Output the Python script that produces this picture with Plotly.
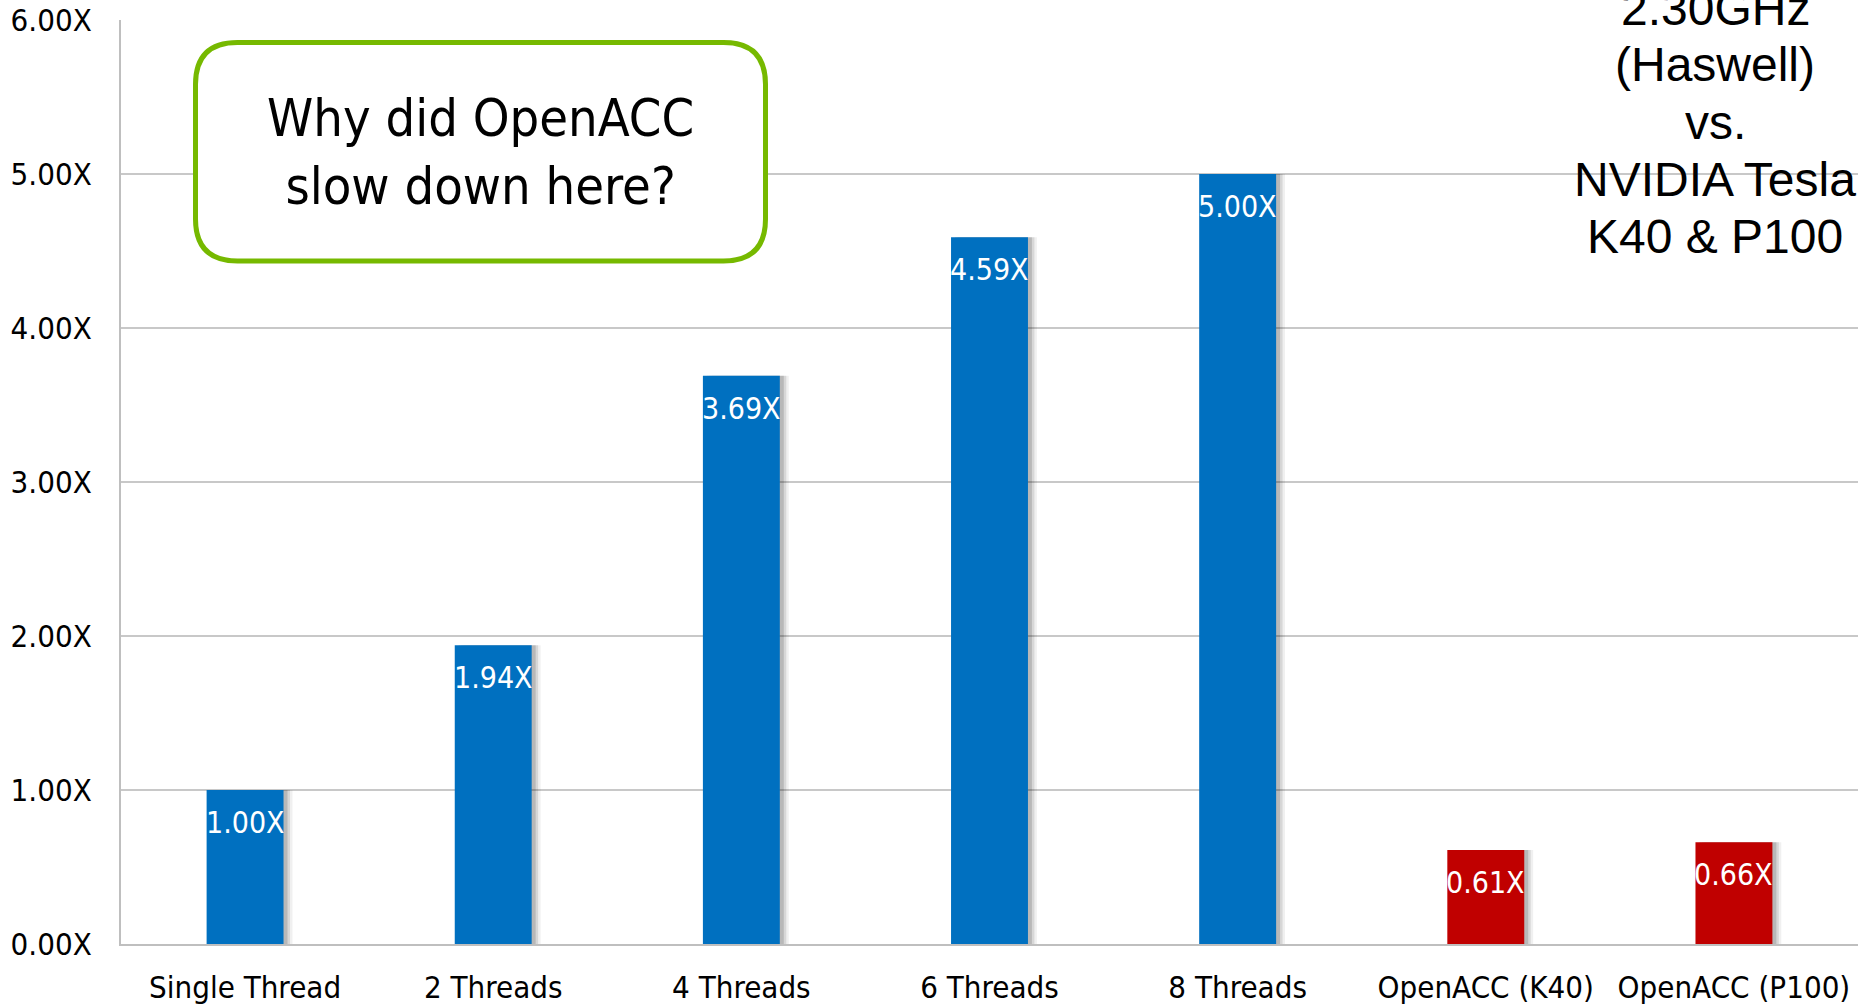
import plotly.graph_objects as go

categories = ["Single Thread", "2 Threads", "4 Threads", "6 Threads", "8 Threads",
              "OpenACC (K40)", "OpenACC (P100)"]
speedup = [1.00, 1.94, 3.69, 4.59, 5.00, 0.61, 0.66]
bar_colors = ["#0070C0"] * 5 + ["#C00000"] * 2
value_labels = ["1.00X", "1.94X", "3.69X", "4.59X", "5.00X", "0.61X", "0.66X"]
y_ticks = [0, 1, 2, 3, 4, 5, 6]
y_tick_labels = ["0.00X", "1.00X", "2.00X", "3.00X", "4.00X", "5.00X", "6.00X"]
callout_text = "Why did OpenACC<br>slow down here?"
side_lines = ["2.30GHz", "(Haswell)", "vs.", "NVIDIA Tesla", "K40 &amp; P100"]

FONT = "DejaVu Sans Condensed, DejaVu Sans, sans-serif"
W, H = 1858, 1005
ML, MR, MT, MB = 121, 0, 20, 59
PW, PH = W - ML - MR, H - MT - MB

BW = 0.31
fig = go.Figure()
# soft shadow layers
for d, a in [(0.036, 0.06), (0.026, 0.10), (0.016, 0.14)]:
    fig.add_trace(go.Bar(x=categories, y=speedup, width=BW, offset=-BW / 2 + d,
                         marker=dict(color=f"rgba(0,0,0,{a})", line=dict(width=0)),
                         hoverinfo="skip", showlegend=False))
fig.add_trace(go.Bar(x=categories, y=speedup, width=BW, offset=-BW / 2,
                     marker=dict(color=bar_colors, line=dict(width=0)),
                     showlegend=False))

annotations = []
for c, v, t in zip(categories, speedup, value_labels):
    annotations.append(dict(x=c, y=v, xref="x", yref="y", text=t, showarrow=False,
                            yanchor="top", yshift=-13,
                            font=dict(family=FONT, size=30, color="white")))


def px_x(p):
    return (p - ML) / PW


def px_y(p):
    return (H - MB - p) / PH


# callout box
bx0, bx1, by0, by1 = 195.5, 765.5, 42.5, 261.5
annotations.append(dict(x=px_x((bx0 + bx1) / 2), y=px_y((by0 + by1) / 2),
                        xref="paper", yref="paper", text=callout_text, showarrow=False,
                        xanchor="center", yanchor="middle",
                        font=dict(family=FONT, size=52, color="black")))

# right side text, one line each
baselines = [26, 82, 140, 197, 255]
for t, b in zip(side_lines, baselines):
    annotations.append(dict(x=px_x(1715), y=px_y(b), xref="paper", yref="paper",
                            text=t, showarrow=False, xanchor="center", yanchor="bottom",
                            yshift=-11,
                            font=dict(family="Liberation Sans, Arial, sans-serif", size=48,
                                      color="black")))

r = 42
kx, ky = r / PW, r / PH
x0, x1, y0, y1 = px_x(bx0), px_x(bx1), px_y(by1), px_y(by0)
path = (f"M {x0 + kx},{y1} L {x1 - kx},{y1} Q {x1},{y1} {x1},{y1 - ky} "
        f"L {x1},{y0 + ky} Q {x1},{y0} {x1 - kx},{y0} L {x0 + kx},{y0} "
        f"Q {x0},{y0} {x0},{y0 + ky} L {x0},{y1 - ky} Q {x0},{y1} {x0 + kx},{y1} Z")

shapes = [
    dict(type="rect", xref="paper", yref="paper", x0=px_x(1533), x1=1.01, y0=px_y(300),
         y1=1.05, fillcolor="white", line=dict(width=0), layer="between"),
    dict(type="path", xref="paper", yref="paper", path=path, fillcolor="white",
         line=dict(color="#76B900", width=5), layer="above"),
]

fig.update_layout(
    width=W, height=H, barmode="overlay",
    margin=dict(l=ML, r=MR, t=MT, b=MB, pad=0),
    paper_bgcolor="white", plot_bgcolor="white",
    annotations=annotations, shapes=shapes,
    xaxis=dict(type="category", categoryorder="array", categoryarray=categories,
               range=[-0.5, len(categories) - 0.5],
               showline=True, linecolor="#BFBFBF", linewidth=2, showgrid=False,
               ticks="", tickfont=dict(family=FONT, size=31, color="black"),
               ticklabelstandoff=15),
    yaxis=dict(range=[0, 6], tickvals=y_ticks, ticktext=y_tick_labels,
               showline=True, linecolor="#BFBFBF", linewidth=2,
               showgrid=True, gridcolor="#C8C8C8", gridwidth=2, zeroline=False,
               ticks="", tickfont=dict(family=FONT, size=31, color="black"),
               ticklabelstandoff=21),
)

fig.write_html("out.html")
